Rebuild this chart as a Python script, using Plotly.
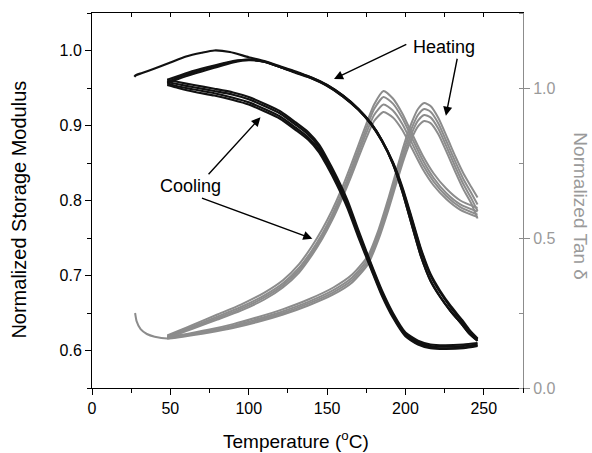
import plotly.graph_objects as go

# ---------------- Data ----------------
# Storage modulus, first heating (starts at room temperature)
mod_heat1_T = [27, 28, 32, 40, 50, 60, 70, 78, 88, 100, 110, 120, 130, 140, 150, 160, 170, 178,
               185, 192, 198, 204, 210, 216, 222, 229, 236, 241, 246]
mod_heat_a = [0.965, 0.967, 0.970, 0.976, 0.984, 0.992, 0.997, 1.000, 0.998, 0.991, 0.986, 0.979,
              0.972, 0.964, 0.954, 0.940, 0.922, 0.903, 0.880, 0.849, 0.812, 0.768, 0.725, 0.693,
              0.672, 0.652, 0.635, 0.622, 0.613]

# Storage modulus, later heating runs (from 48 C)
mod_heat_T = [48, 55, 65, 78, 90, 100, 110, 120, 130, 140, 150, 160, 170, 178, 185, 192, 198,
              204, 210, 216, 222, 229, 236, 241, 246]
mod_heat_b = [0.958, 0.964, 0.971, 0.979, 0.985, 0.988, 0.985, 0.978, 0.971, 0.964, 0.954, 0.940,
              0.922, 0.903, 0.880, 0.849, 0.812, 0.768, 0.725, 0.693, 0.672, 0.652, 0.635, 0.622, 0.613]
mod_heat_c = [0.961, 0.966, 0.973, 0.980, 0.986, 0.988, 0.985, 0.978, 0.971, 0.963, 0.953, 0.939,
              0.921, 0.902, 0.879, 0.850, 0.816, 0.775, 0.733, 0.700, 0.678, 0.657, 0.639, 0.625, 0.615]
mod_heat_d = [0.956, 0.962, 0.969, 0.977, 0.984, 0.987, 0.985, 0.978, 0.970, 0.963, 0.953, 0.939,
              0.921, 0.902, 0.880, 0.851, 0.818, 0.777, 0.735, 0.702, 0.680, 0.659, 0.641, 0.627, 0.616]

# Storage modulus, cooling runs (246 C down to 48 C)
mod_cool_T = [48, 55, 65, 78, 90, 100, 110, 120, 130, 138, 145, 150, 156, 163, 170, 178, 185,
              192, 200, 208, 216, 225, 237, 246]
mod_cool_a = [0.958, 0.955, 0.951, 0.946, 0.941, 0.935, 0.926, 0.916, 0.901, 0.888, 0.871, 0.853,
              0.829, 0.797, 0.757, 0.714, 0.678, 0.648, 0.622, 0.611, 0.606, 0.605, 0.606, 0.608]
mod_cool_b = [0.956, 0.952, 0.948, 0.943, 0.937, 0.931, 0.922, 0.912, 0.897, 0.884, 0.867, 0.849,
              0.825, 0.793, 0.754, 0.711, 0.675, 0.646, 0.620, 0.609, 0.604, 0.603, 0.604, 0.607]
mod_cool_c = [0.961, 0.958, 0.954, 0.949, 0.944, 0.938, 0.929, 0.919, 0.904, 0.891, 0.874, 0.856,
              0.832, 0.800, 0.760, 0.716, 0.680, 0.650, 0.624, 0.613, 0.608, 0.607, 0.608, 0.610]
mod_cool_d = [0.954, 0.950, 0.945, 0.940, 0.934, 0.928, 0.919, 0.909, 0.894, 0.881, 0.864, 0.846,
              0.822, 0.790, 0.751, 0.709, 0.673, 0.644, 0.619, 0.608, 0.603, 0.602, 0.603, 0.606]

# Tan delta, first heating
tan_heat1_T = [27.5, 28.5, 31, 35, 40, 48, 58, 75, 90, 105, 122, 138, 154, 166, 176, 183, 189,
               194, 199, 204, 208, 212, 216, 221, 227, 232, 237, 242, 246]
tan_heat_a = [0.250, 0.222, 0.196, 0.180, 0.171, 0.165, 0.171, 0.185, 0.200, 0.219, 0.245, 0.275,
              0.312, 0.352, 0.412, 0.498, 0.592, 0.679, 0.763, 0.832, 0.872, 0.890, 0.883, 0.846,
              0.778, 0.718, 0.662, 0.615, 0.565]

# Tan delta, later heating runs
tan_heat_T = [48, 58, 75, 90, 105, 122, 138, 154, 166, 176, 183, 189, 194, 199, 204, 208, 212,
              216, 221, 227, 232, 237, 242, 246]
tan_heat_b = [0.168, 0.178, 0.195, 0.213, 0.235, 0.263, 0.295, 0.335, 0.378, 0.440, 0.530, 0.630,
              0.720, 0.810, 0.885, 0.930, 0.950, 0.940, 0.900, 0.830, 0.770, 0.715, 0.670, 0.635]
tan_heat_c = [0.166, 0.175, 0.191, 0.208, 0.229, 0.256, 0.287, 0.326, 0.368, 0.430, 0.518, 0.616,
              0.705, 0.793, 0.866, 0.910, 0.930, 0.921, 0.882, 0.812, 0.752, 0.696, 0.650, 0.612]
tan_heat_d = [0.165, 0.173, 0.188, 0.204, 0.224, 0.250, 0.281, 0.319, 0.360, 0.421, 0.508, 0.604,
              0.692, 0.778, 0.849, 0.891, 0.910, 0.902, 0.864, 0.795, 0.735, 0.679, 0.632, 0.590]

# Tan delta, cooling runs
tan_cool_T = [48, 55, 65, 80, 95, 110, 122, 132, 140, 147, 153, 159, 165, 170, 175, 180, 186,
              192, 198, 204, 211, 218, 226, 235, 246]
tan_cool_a = [0.175, 0.190, 0.212, 0.245, 0.278, 0.318, 0.360, 0.412, 0.470, 0.530, 0.590, 0.660,
              0.740, 0.810, 0.880, 0.945, 0.990, 0.965, 0.915, 0.850, 0.775, 0.715, 0.665, 0.625, 0.600]
tan_cool_b = [0.172, 0.186, 0.207, 0.238, 0.270, 0.309, 0.350, 0.400, 0.456, 0.515, 0.575, 0.645,
              0.725, 0.795, 0.865, 0.930, 0.970, 0.948, 0.900, 0.835, 0.760, 0.700, 0.650, 0.612, 0.588]
tan_cool_c = [0.170, 0.183, 0.203, 0.233, 0.264, 0.302, 0.343, 0.392, 0.448, 0.506, 0.566, 0.635,
              0.713, 0.782, 0.850, 0.910, 0.945, 0.925, 0.880, 0.818, 0.745, 0.688, 0.640, 0.603, 0.578]
tan_cool_d = [0.168, 0.180, 0.199, 0.228, 0.258, 0.295, 0.336, 0.384, 0.440, 0.498, 0.557, 0.625,
              0.700, 0.768, 0.833, 0.890, 0.920, 0.902, 0.860, 0.800, 0.730, 0.675, 0.630, 0.594, 0.570]

x_ticks = [0, 50, 100, 150, 200, 250]
mod_ticks = [0.6, 0.7, 0.8, 0.9, 1.0]
tan_ticks = [0.0, 0.5, 1.0]

BLACK = "#111111"
GRAY = "#8c8c8c"
GRAY_TXT = "#9a9a9a"
FONT = "Liberation Sans, Arial, sans-serif"

fig = go.Figure()

def add(xs, ys, color, yaxis, width):
    fig.add_trace(go.Scatter(x=xs, y=ys, mode="lines", xaxis="x", yaxis=yaxis,
                             line=dict(color=color, width=width, shape="spline", smoothing=0.6),
                             showlegend=False, hoverinfo="skip"))

# tan delta (gray) on base y axis (right side) -> drawn underneath
add(tan_heat1_T, tan_heat_a, GRAY, "y", 2)
for ys in (tan_heat_b, tan_heat_c, tan_heat_d):
    add(tan_heat_T, ys, GRAY, "y", 2)
for ys in (tan_cool_a, tan_cool_b, tan_cool_c, tan_cool_d):
    add(tan_cool_T, ys, GRAY, "y", 2)

# storage modulus (black) on overlaying axis (left side) -> drawn on top
add(mod_heat1_T, mod_heat_a, BLACK, "y2", 2.2)
for ys in (mod_heat_b, mod_heat_c, mod_heat_d):
    add(mod_heat_T, ys, BLACK, "y2", 2.2)
for ys in (mod_cool_a, mod_cool_b, mod_cool_c, mod_cool_d):
    add(mod_cool_T, ys, BLACK, "y2", 2.2)

# invisible helper trace so the top (mirror) axis is drawn
fig.add_trace(go.Scatter(x=[None], y=[None], xaxis="x2", yaxis="y", mode="markers",
                         showlegend=False, hoverinfo="skip"))

fig.update_layout(
    width=592, height=453,
    margin=dict(l=92, r=69, t=13, b=65),
    paper_bgcolor="white", plot_bgcolor="white",
    font=dict(family=FONT, size=16, color="black"),
    showlegend=False,
    xaxis=dict(range=[0, 275], tickvals=x_ticks, ticks="outside", ticklen=6, tickwidth=1,
               tickcolor="black", showline=True, linecolor="black", linewidth=1,
               showgrid=False, zeroline=False, anchor="y",
               tickfont=dict(size=16, color="black"),
               minor=dict(dtick=25, tick0=0, ticks="outside", ticklen=4, tickcolor="black")),
    xaxis2=dict(range=[0, 275], overlaying="x", side="top", anchor="y", dtick=25, tick0=0,
                ticks="inside", ticklen=4, tickcolor="black", showticklabels=False,
                showline=True, linecolor="black", linewidth=1, showgrid=False, zeroline=False),
    yaxis=dict(range=[0, 1.25], side="right", tickvals=tan_ticks, tickformat=".1f",
               ticks="outside", ticklen=6, tickcolor=GRAY, showline=True, linecolor=GRAY,
               linewidth=1, showgrid=False, zeroline=False,
               tickfont=dict(size=16, color=GRAY_TXT),
               minor=dict(dtick=0.25, tick0=0, ticks="inside", ticklen=4, tickcolor=GRAY)),
    yaxis2=dict(range=[0.55, 1.05], overlaying="y", side="left", anchor="x",
                tickvals=mod_ticks, tickformat=".1f", ticks="outside", ticklen=6,
                tickcolor="black", showline=True, linecolor="black", linewidth=1,
                showgrid=False, zeroline=False, tickfont=dict(size=16, color="black"),
                minor=dict(dtick=0.05, tick0=0.55, ticks="outside", ticklen=4, tickcolor="black")),
)

annotations = [
    # axis titles
    dict(text="Temperature (<sup>o</sup>C)", xref="paper", yref="paper", x=0.4725, y=-0.139,
         showarrow=False, font=dict(size=19, color="black"), xanchor="center", yanchor="middle"),
    dict(text="Normalized Storage Modulus", xref="paper", yref="paper", x=-0.17, y=0.475,
         showarrow=False, textangle=-90, font=dict(size=20, color="black"),
         xanchor="center", yanchor="middle"),
    dict(text="Normalized Tan δ", xref="paper", yref="paper", x=1.134, y=0.485,
         showarrow=False, textangle=90, font=dict(size=19, color=GRAY_TXT),
         xanchor="center", yanchor="middle"),
    # labels
    dict(text="Heating", xref="x", yref="y2", x=224.5, y=1.005, showarrow=False,
         font=dict(size=18, color="black")),
    dict(text="Cooling", xref="x", yref="y2", x=62.8, y=0.82, showarrow=False,
         font=dict(size=18, color="black")),
]
arrows = [
    (154.4, 0.962, 201.5, 1.009),
    (225.8, 0.913, 233.2, 0.991),
    (107.5, 0.911, 73.5, 0.833),
    (140.6, 0.749, 69.2, 0.804),
]
for (x, y, ax, ay) in arrows:
    annotations.append(dict(text="", x=x, y=y, ax=ax, ay=ay, xref="x", yref="y2",
                            axref="x", ayref="y2", showarrow=True, arrowhead=2,
                            arrowsize=1.3, arrowwidth=1.4, arrowcolor="black", standoff=0))
fig.update_layout(annotations=annotations)

fig.write_html("out.html", config={"displayModeBar": False},
               post_script="document.body.style.margin='0';document.body.style.padding='0';")
